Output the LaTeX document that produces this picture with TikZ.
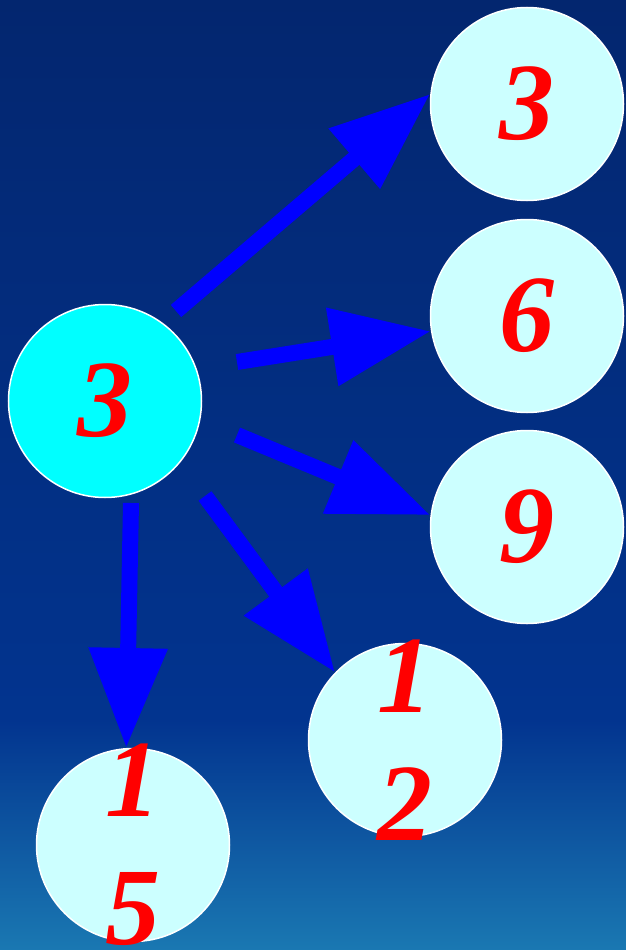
\documentclass[tikz,border=0pt]{standalone}
\usepackage{fontspec}
\setmainfont{Liberation Serif}
\usetikzlibrary{arrows.meta}
\definecolor{bgtop}{HTML}{03266F}
\definecolor{bgmid}{HTML}{02348F}
\definecolor{bgbot}{HTML}{1A78B2}
\definecolor{leafcyan}{HTML}{CCFFFF}
\definecolor{rootcyan}{HTML}{00FFFF}
\definecolor{linkblue}{HTML}{0000FF}
\definecolor{numred}{HTML}{FF0000}
\begin{document}
\begin{tikzpicture}[x=1pt,y=-1pt,
  num/.style={text=numred, font=\bfseries\itshape\fontsize{110}{128}\selectfont, align=center, inner sep=0pt},
  leaf/.style={circle, draw=white, line width=1.5pt, fill=leafcyan, minimum size=193pt, inner sep=0pt},
  root/.style={leaf, fill=rootcyan},
  link/.style={draw=linkblue, line width=16pt, -{Triangle[length=100pt,width=75pt]}}]
\useasboundingbox (0,0) rectangle (626,950);
\shade[top color=bgtop, bottom color=bgmid] (0,0) rectangle (626,721);
\shade[top color=bgmid, bottom color=bgbot] (0,720) rectangle (626,950);
% the number in the middle and the ones it reaches
\node[root, label={[num]center:3}] (c) at (105,401) {};
\node[leaf, label={[num]center:3}] (t3) at (527,104) {};
\node[leaf, label={[num]center:6}] (t6) at (527,316) {};
\node[leaf, label={[num]center:9}] (t9) at (527,527) {};
\node[leaf, label={[num]center:1\\2}] (t12) at (405,740) {};
\node[leaf, label={[num]center:1\\5}] (t15) at (133,845) {};
% where the arrows leave the middle
\coordinate (s3) at (176,311);
\coordinate (s6) at (237,362);
\coordinate (s9) at (237,435);
\coordinate (s12) at (205,496);
\coordinate (s15) at (131,503);
\foreach \t/\a in {3/174,6/189,9/173,12/136,15/94} \draw[link] (s\t) -- (t\t.\a);
\end{tikzpicture}
\end{document}
